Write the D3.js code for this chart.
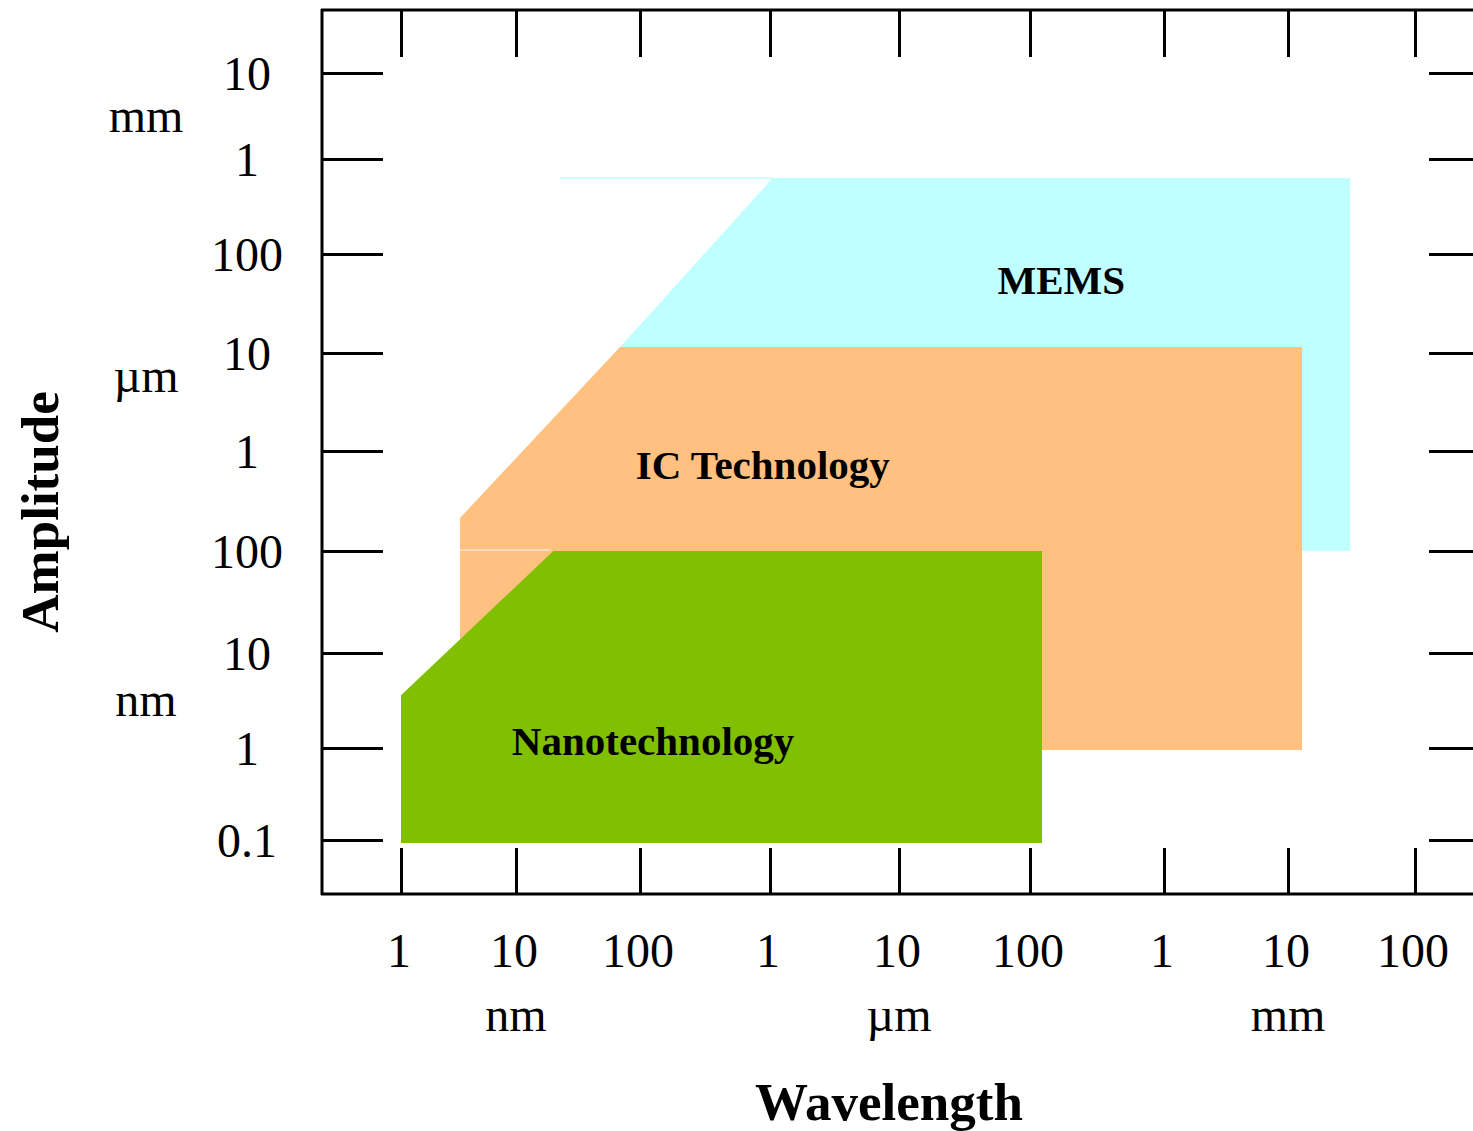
<!DOCTYPE html>
<html>
<head>
<meta charset="utf-8">
<script src="https://cdn.jsdelivr.net/npm/d3@7"></script>
<style>
  html, body { margin: 0; padding: 0; background: #fff; }
  svg { display: block; }
  text { font-family: "Liberation Serif", "Times New Roman", serif; fill: #000; }
</style>
</head>
<body>
<svg id="chart" width="1473" height="1131"></svg>
<script>
// Decade ticks, in metres
const wavelengthTicks = [1e-9, 1e-8, 1e-7, 1e-6, 1e-5, 1e-4, 1e-3, 1e-2, 1e-1];
const wavelengthTickLabels = ["1", "10", "100", "1", "10", "100", "1", "10", "100"];
const wavelengthUnits = [{ unit: "nm", at: 1e-8 }, { unit: "µm", at: 1e-5 }, { unit: "mm", at: 1e-2 }];

const amplitudeTicks = [1e-2, 1e-3, 1e-4, 1e-5, 1e-6, 1e-7, 1e-8, 1e-9, 1e-10];
const amplitudeTickLabels = ["10", "1", "100", "10", "1", "100", "10", "1", "0.1"];
const amplitudeUnits = [{ unit: "mm", at: 3.2e-3 }, { unit: "µm", at: 6e-6 }, { unit: "nm", at: 3.3e-9 }];

// Technology regions as [wavelength, amplitude] outlines (metres)
const memsRegion = [[6.9e-8, 1.15e-5], [1.05e-6, 6.3e-4], [3.08e-2, 6.3e-4], [3.08e-2, 1e-7], [6.9e-8, 1e-7]];
const icRegion = [[3.26e-9, 2.14e-7], [6.9e-8, 1.15e-5], [1.29e-2, 1.15e-5], [1.29e-2, 9.5e-10], [3.26e-9, 9.5e-10]];
const nanoRegion = [[1e-9, 9.3e-11], [1e-9, 3.6e-9], [2.0e-8, 1e-7], [1.23e-4, 1e-7], [1.23e-4, 9.3e-11]];

const regionNames = ["MEMS", "IC Technology", "Nanotechnology"];
const regionLabelAt = [[1.71e-4, 5.46e-5], [8.8e-7, 7.1e-7], [1.26e-7, 1.16e-9]];
const regionColors = ["#C0FFFF", "#FFC080", "#80C000"];

// Thin edge traces left on the region outlines
const memsTopEdge = [[2.26e-8, 6.3e-4], [1.05e-6, 6.3e-4]];
const icSeam = [[3.26e-9, 1.02e-7], [1.9e-8, 1.02e-7]];

const svg = d3.select("#chart");

// Piecewise log scales: each decade gets its own span on the page
const x = d3.scaleLog().domain(wavelengthTicks)
  .range([401, 516, 640, 770, 899, 1030, 1164, 1288, 1415]);
const y = d3.scaleLog().domain(amplitudeTicks)
  .range([73, 159, 254, 353, 451, 551, 653, 748, 840]);

const line = d3.line().x(d => x(d[0])).y(d => y(d[1]));
const area = d3.line().x(d => x(d[0])).y(d => y(d[1])).curve(d3.curveLinearClosed);

// Regions, back to front
[memsRegion, icRegion, nanoRegion].forEach((r, i) => {
  svg.append("path").attr("d", area(r)).attr("fill", regionColors[i]);
});
svg.append("path").attr("d", line(memsTopEdge))
  .attr("stroke", regionColors[0]).attr("stroke-width", 1.5).attr("fill", "none");
svg.append("path").attr("d", line(icSeam))
  .attr("stroke", "#fff").attr("stroke-opacity", 0.7).attr("stroke-width", 1.2).attr("fill", "none");

// Region labels
svg.selectAll("text.region").data(regionNames).join("text")
  .attr("class", "region")
  .attr("x", (d, i) => x(regionLabelAt[i][0]))
  .attr("y", (d, i) => y(regionLabelAt[i][1]))
  .attr("dy", "0.33em")
  .attr("text-anchor", "middle")
  .attr("font-weight", "bold")
  .attr("font-size", 41)
  .text(d => d);

// Frame
const frame = svg.append("g").attr("stroke", "#000").attr("stroke-width", 3);
frame.append("line").attr("x1", 321).attr("x2", 1473).attr("y1", 10).attr("y2", 10);
frame.append("line").attr("x1", 322).attr("x2", 322).attr("y1", 9).attr("y2", 895);
frame.append("line").attr("x1", 321).attr("x2", 1473).attr("y1", 894).attr("y2", 894);

// Inward-pointing ticks on all four sides
function ticksOnly(axis, tx, ty) {
  const g = svg.append("g").attr("transform", `translate(${tx},${ty})`).call(axis);
  g.select(".domain").remove();
  g.selectAll(".tick text").remove();
  g.selectAll(".tick line").attr("stroke", "#000").attr("stroke-width", 3);
  return g;
}
ticksOnly(d3.axisBottom(x).tickValues(wavelengthTicks).tickSizeInner(-46).tickSizeOuter(0), 0, 894);
ticksOnly(d3.axisTop(x).tickValues(wavelengthTicks).tickSizeInner(-47).tickSizeOuter(0), 0, 10);
ticksOnly(d3.axisLeft(y).tickValues(amplitudeTicks).tickSizeInner(-61).tickSizeOuter(0), 322, 0);
ticksOnly(d3.axisRight(y).tickValues(amplitudeTicks).tickSizeInner(-44).tickSizeOuter(0), 1473, 0);

// Wavelength tick labels and units
svg.selectAll("text.xtick").data(wavelengthTicks).join("text")
  .attr("class", "xtick")
  .attr("x", d => x(d) - 2)
  .attr("y", 967)
  .attr("text-anchor", "middle")
  .attr("font-size", 48)
  .text((d, i) => wavelengthTickLabels[i]);
svg.selectAll("text.xunit").data(wavelengthUnits).join("text")
  .attr("class", "xunit")
  .attr("x", d => x(d.at))
  .attr("y", 1031)
  .attr("text-anchor", "middle")
  .attr("font-size", 48)
  .text(d => d.unit);

// Amplitude tick labels and units
svg.selectAll("text.ytick").data(amplitudeTicks).join("text")
  .attr("class", "ytick")
  .attr("x", 247)
  .attr("y", d => y(d))
  .attr("dy", "0.35em")
  .attr("text-anchor", "middle")
  .attr("font-size", 48)
  .text((d, i) => amplitudeTickLabels[i]);
svg.selectAll("text.yunit").data(amplitudeUnits).join("text")
  .attr("class", "yunit")
  .attr("x", 146)
  .attr("y", d => y(d.at))
  .attr("dy", "0.35em")
  .attr("text-anchor", "middle")
  .attr("font-size", 48)
  .text(d => d.unit);

// Axis titles
svg.append("text")
  .attr("x", 889).attr("y", 1120)
  .attr("text-anchor", "middle")
  .attr("font-weight", "bold").attr("font-size", 53)
  .text("Wavelength");
svg.append("text")
  .attr("transform", "translate(58,512) rotate(-90)")
  .attr("text-anchor", "middle")
  .attr("font-weight", "bold").attr("font-size", 53)
  .text("Amplitude");
</script>
</body>
</html>
